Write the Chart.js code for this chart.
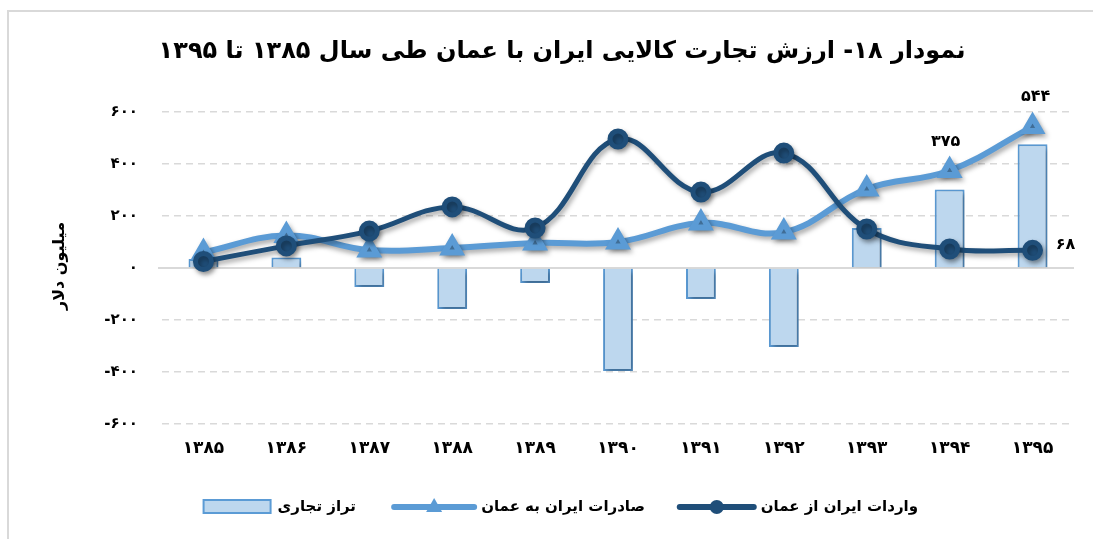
<!DOCTYPE html>
<html>
<head>
<meta charset="utf-8">
<script src="https://cdn.jsdelivr.net/npm/chart.js@4.4.0/dist/chart.umd.min.js"></script>
<style>
html,body{margin:0;padding:0;background:#fff;}
#wrap{position:relative;width:1093px;height:539px;}
</style>
</head>
<body>
<div id="wrap"><canvas id="c" width="1093" height="539"></canvas></div>
<script>
// ---- data ----
const categories = ['۱۳۸۵','۱۳۸۶','۱۳۸۷','۱۳۸۸','۱۳۸۹','۱۳۹۰','۱۳۹۱','۱۳۹۲','۱۳۹۳','۱۳۹۴','۱۳۹۵'];
const imports = [25, 85, 142, 235, 154, 496, 292, 442, 150, 73, 68];
const exportsV = [60, 125, 69, 77, 96, 100, 173, 138, 304, 375, 544];
const balance = [35, 40, -73, -158, -58, -396, -119, -304, 154, 302, 476];
const yTickValues = [-600, -400, -200, 0, 200, 400, 600];
const yTickLabels = ['-۶۰۰','-۴۰۰','-۲۰۰','۰','۲۰۰','۴۰۰','۶۰۰'];
const seriesNames = ['تراز تجاری', 'صادرات ایران به عمان', 'واردات ایران از عمان'];
const titleText = 'نمودار ۱۸- ارزش تجارت کالایی ایران با عمان طی سال ۱۳۸۵ تا ۱۳۹۵';
const yTitle = 'میلیون دلار';

const FONT = "'DejaVu Sans', sans-serif";
const DARK = '#1F4E79';
const MID = '#5B9BD5';
const LIGHT = '#BDD7EE';

function fa(n){ return String(n).replace(/\d/g, d => '۰۱۲۳۴۵۶۷۸۹'[d]); }

// labels to show: [datasetIndex, pointIndex, dx, dy]
const shownLabels = [[1, 10, 3, -30], [1, 9, -4, -29], [2, 10, 33, -5]];

const framePlugin = {
  id: 'frame',
  beforeDraw(chart){
    const ctx = chart.ctx;
    ctx.save();
    ctx.strokeStyle = '#d9d9d9';
    ctx.lineWidth = 2;
    ctx.beginPath();
    ctx.moveTo(8, 545); ctx.lineTo(8, 11); ctx.lineTo(1100, 11);
    ctx.stroke();
    // title
    ctx.fillStyle = '#000';
    ctx.font = "bold 24px " + FONT;
    ctx.textAlign = 'center';
    ctx.textBaseline = 'middle';
    ctx.fillText(titleText, 562, 52);
    ctx.restore();
  },
  beforeDatasetsDraw(chart){
    const ctx = chart.ctx, y = chart.scales.y, a = chart.chartArea;
    const py = Math.round(y.getPixelForValue(0));
    ctx.save();
    ctx.strokeStyle = '#d9d9d9';
    ctx.lineWidth = 2;
    ctx.beginPath(); ctx.moveTo(a.left - 4, py); ctx.lineTo(a.right, py); ctx.stroke();
    ctx.restore();
  },
  beforeDatasetDraw(chart){
    const ctx = chart.ctx;
    ctx.save();
    ctx.shadowColor = 'rgba(0,0,0,0.35)';
    ctx.shadowBlur = 5;
    ctx.shadowOffsetX = 2;
    ctx.shadowOffsetY = 3;
  },
  afterDatasetDraw(chart){
    chart.ctx.restore();
  },
  afterDraw(chart){
    const ctx = chart.ctx;
    ctx.save();
    // data labels
    ctx.fillStyle = '#000';
    ctx.font = "bold 16px " + FONT;
    ctx.textAlign = 'center';
    ctx.textBaseline = 'middle';
    shownLabels.forEach(([di, pi, dx, dy]) => {
      const el = chart.getDatasetMeta(di).data[pi];
      const v = chart.data.datasets[di].data[pi];
      ctx.fillText(fa(v), el.x + dx, el.y + dy);
    });
    // y title
    ctx.save();
    ctx.translate(60, 266);
    ctx.rotate(-Math.PI/2);
    ctx.font = "bold 16px " + FONT;
    ctx.fillText(yTitle, 0, 0);
    ctx.restore();
    // legend (text right edges, symbol placed left of text)
    const ly = 507;
    ctx.font = "bold 15px " + FONT;
    ctx.textAlign = 'right';
    const rights = [356, 645, 918];
    const symW = [67, 80, 74];
    for (let i = 0; i < 3; i++) {
      const w = ctx.measureText(seriesNames[i]).width;
      const tx = rights[i];
      const sr = tx - w - 7;
      const sl = sr - symW[i];
      ctx.fillStyle = '#000';
      ctx.fillText(seriesNames[i], tx, ly);
      if (i === 0) {
        ctx.fillStyle = LIGHT; ctx.strokeStyle = MID; ctx.lineWidth = 2;
        ctx.fillRect(sl, 500, symW[i], 13); ctx.strokeRect(sl, 500, symW[i], 13);
      } else {
        const col = i === 1 ? MID : DARK;
        ctx.strokeStyle = col; ctx.lineWidth = 6; ctx.lineCap = 'round';
        ctx.beginPath(); ctx.moveTo(sl, ly); ctx.lineTo(sr, ly); ctx.stroke();
        ctx.fillStyle = col;
        const cx = (sl + sr) / 2;
        ctx.beginPath();
        if (i === 1) { ctx.moveTo(cx, ly-9); ctx.lineTo(cx+8, ly+5); ctx.lineTo(cx-8, ly+5); ctx.closePath(); }
        else { ctx.arc(cx, ly, 7, 0, Math.PI*2); }
        ctx.fill();
      }
    }
    ctx.restore();
  }
};

new Chart(document.getElementById('c'), {
  type: 'bar',
  data: {
    labels: categories,
    datasets: [
      {
        type: 'bar', label: seriesNames[0], data: balance,
        backgroundColor: LIGHT, borderColor: MID, borderWidth: 2,
        barPercentage: 0.36, categoryPercentage: 1, order: 3
      },
      {
        type: 'line', label: seriesNames[1], data: exportsV,
        borderColor: MID, backgroundColor: MID, borderWidth: 6,
        pointStyle: 'triangle', pointRadius: 9, pointHoverRadius: 9,
        tension: 0.4, fill: false, order: 2
      },
      {
        type: 'line', label: seriesNames[2], data: imports,
        borderColor: DARK, backgroundColor: DARK, borderWidth: 5,
        pointStyle: 'circle', pointRadius: 8, pointHoverRadius: 8,
        tension: 0.4, fill: false, order: 1
      }
    ]
  },
  options: {
    responsive: false,
    animation: false,
    devicePixelRatio: 1,
    layout: { padding: { left: 0, right: 19, top: 112, bottom: 0 } },
    plugins: {
      legend: { display: false },
      tooltip: { enabled: false },
      title: { display: false }
    },
    scales: {
      x: {
        grid: { display: false },
        border: { display: false },
        afterFit(scale){ scale.height = 115; },
        ticks: { color: '#000', font: { family: FONT, size: 17, weight: 'bold' }, padding: 6 }
      },
      y: {
        min: -600, max: 600,
        afterBuildTicks(scale){ scale.ticks = yTickValues.map(v => ({ value: v })); },
        afterFit(scale){ scale.width = 162; },
        grid: { color: '#d9d9d9', lineWidth: 1.5, drawTicks: false },
        border: { display: false, dash: [7, 5] },
        ticks: {
          color: '#000', font: { family: FONT, size: 15, weight: 'bold' }, padding: 24,
          callback(v){ const i = yTickValues.indexOf(v); return i >= 0 ? yTickLabels[i] : ''; }
        }
      }
    }
  },
  plugins: [framePlugin]
});
</script>
</body>
</html>
